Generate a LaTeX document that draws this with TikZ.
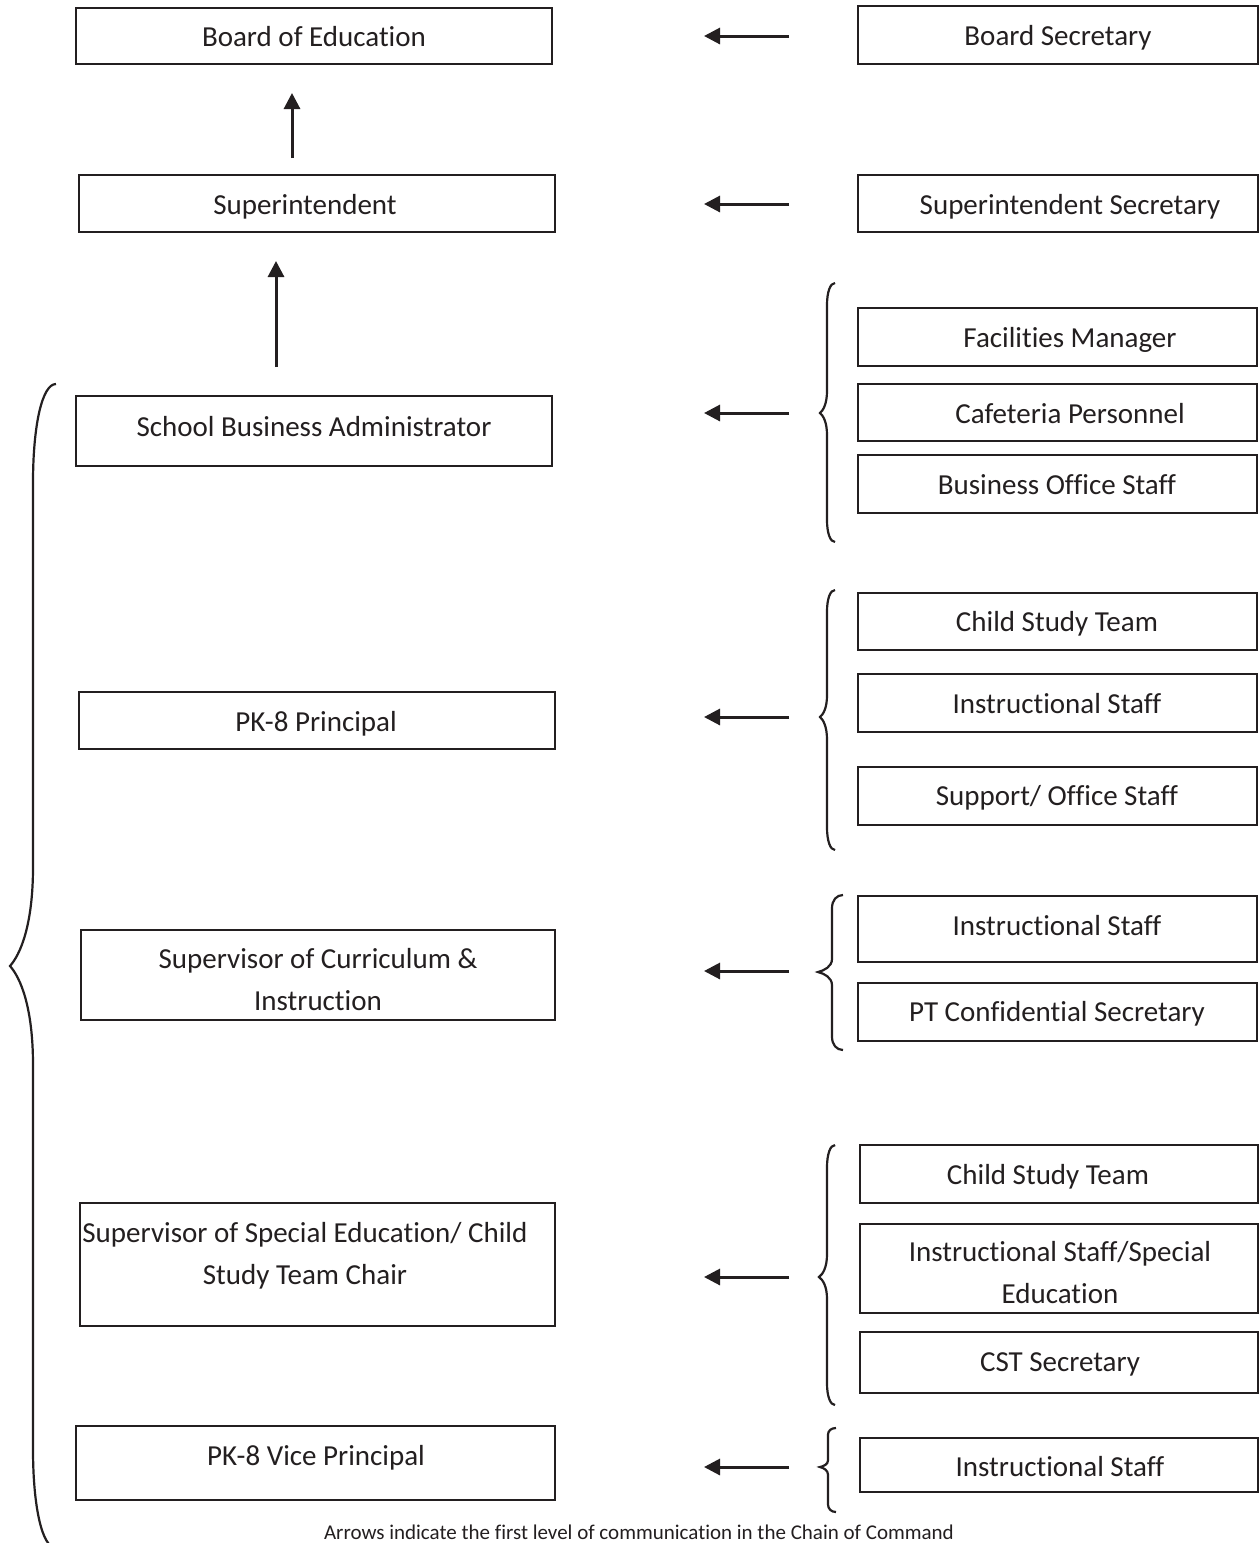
\documentclass[tikz,border=0pt]{standalone}
\usepackage{fontspec}
\setmainfont{Carlito}[Ligatures={NoCommon,NoContextual}]
\usetikzlibrary{arrows.meta,calc}
\definecolor{ink}{RGB}{35,31,32}
% box: name, x1, y1, x2, y2, text x, text baseline y, text
\newcommand\obox[8]{%
  \node[box, minimum width={#4-#2}, minimum height={#5-#3}] (#1) at ({(#2+#4)/2},{(#3+#5)/2}) {};
  \node[lbl, anchor=base] (#1-t) at (#6,#7) {#8};}
% curly brace opening to the right: end x, stem x, tip x, top y, tip y, bottom y
\newcommand\wbrace[6]{%
  \draw[brc] (#1,#4) .. controls ({#2+0.4*(#1-#2)},#4) and (#2,{#4+0.07*(#5-#4)}) .. (#2,{#4+0.17*(#5-#4)})
   -- (#2,{#5-0.17*(#5-#4)}) .. controls (#2,{#5-0.07*(#5-#4)}) and ({#3+0.45*(#2-#3)},{#5-0.02*(#5-#4)}) .. (#3,#5)
   .. controls ({#3+0.45*(#2-#3)},{#5+0.02*(#6-#5)}) and (#2,{#5+0.07*(#6-#5)}) .. (#2,{#5+0.17*(#6-#5)})
   -- (#2,{#6-0.17*(#6-#5)}) .. controls (#2,{#6-0.07*(#6-#5)}) and ({#2+0.4*(#1-#2)},#6) .. (#1,#6);}
\begin{document}
\begin{tikzpicture}[x=1pt,y=-1pt,
  box/.style={draw=ink, line width=2.2pt, rectangle, inner sep=0pt, outer sep=0pt},
  lbl/.style={inner sep=0pt, outer sep=0pt, text=ink, font=\fontsize{29}{42}\selectfont, align=center},
  arr/.style={draw=ink, line width=3pt, -{Triangle[length=16pt,width=16pt]}},
  brc/.style={draw=ink, line width=2.2pt}]
\useasboundingbox[fill=white] (0,0) rectangle (1259,1543);

% left column
\obox{boe}{76}{8}{552}{64}{314}{46}{Board of Education}
\obox{sup}{79}{175}{555}{232}{305}{214}{Superintendent}
\obox{sba}{76}{396}{552}{466}{314}{436}{School Business Administrator}
\obox{pk}{79}{692}{555}{749}{316}{731}{PK-8 Principal}
\obox{sci}{81}{930}{555}{1020}{318}{1010}{Supervisor of Curriculum \&\\Instruction}
\obox{sse}{80}{1203}{555}{1326}{305}{1284}{Supervisor of Special Education/ Child\\Study Team Chair}
\obox{vp}{76}{1426}{555}{1500}{316}{1465}{PK-8 Vice Principal}

% right column
\obox{bs}{858}{6}{1258}{64}{1058}{45}{Board Secretary}
\obox{ss}{858}{175}{1258}{232}{1070}{214}{Superintendent Secretary}
\obox{fm}{858}{308}{1257}{366}{1070}{347}{Facilities Manager}
\obox{cp}{858}{384}{1257}{441}{1070}{423}{Cafeteria Personnel}
\obox{bos}{858}{455}{1257}{513}{1057}{494}{Business Office Staff}
\obox{cst}{858}{593}{1257}{650}{1057}{631}{Child Study Team}
\obox{isa}{858}{674}{1257}{732}{1057}{713}{Instructional Staff}
\obox{sos}{858}{767}{1257}{825}{1057}{805}{Support/ Office Staff}
\obox{isb}{858}{896}{1257}{962}{1057}{935}{Instructional Staff}
\obox{ptc}{858}{983}{1257}{1041}{1057}{1021}{PT Confidential Secretary}
\obox{cstb}{860}{1145}{1258}{1203}{1048}{1184}{Child Study Team}
\obox{isse}{860}{1224}{1258}{1313}{1060}{1303}{Instructional Staff/Special\\Education}
\obox{csts}{860}{1332}{1258}{1393}{1060}{1371}{CST Secretary}
\obox{isc}{860}{1438}{1258}{1492}{1060}{1476}{Instructional Staff}

% upward arrows
\coordinate (u1s) at (292,158); \coordinate (u1e) at (292,93);
\coordinate (u2s) at (276,367); \coordinate (u2e) at (276,261);
\draw[arr] (u1s) -- (u1e);
\draw[arr] (u2s) -- (u2e);

% leftward arrows
\foreach \n/\yy in {1/36,2/204,3/413,4/717,5/971,6/1277,7/1467}{
  \coordinate (l\n s) at (789,\yy);
  \coordinate (l\n e) at (704,\yy);
  \draw[arr] (l\n s) -- (l\n e);
}

% braces
\wbrace{56}{33}{10}{384}{966}{1548}
\wbrace{835}{827}{820}{283}{413}{542}
\wbrace{835}{827}{820}{590}{717}{850}
\wbrace{843}{832}{818}{895}{972}{1050}
\wbrace{835}{827}{819}{1145}{1277}{1405}
\wbrace{836}{828}{820}{1428}{1467}{1512}

% footnote
\node[inner sep=0pt, text=ink, font=\fontsize{21}{25}\selectfont, anchor=base] (note) at (639,1539)
  {Arrows indicate the first level of communication in the Chain of Command};
\end{tikzpicture}
\end{document}
